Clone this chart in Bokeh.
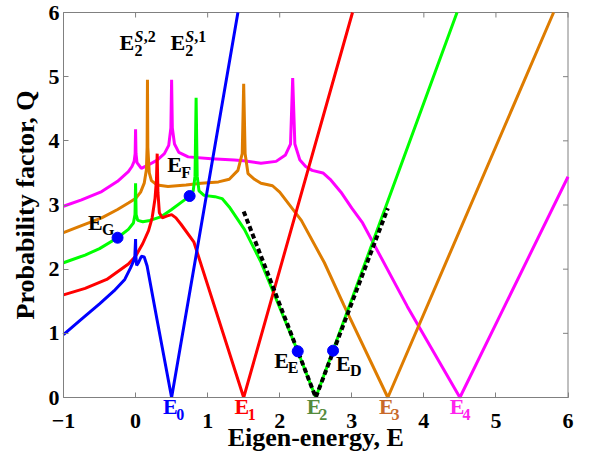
import math
from bokeh.plotting import figure
from bokeh.models import Range1d, FixedTicker, Label
from bokeh.embed import file_html
from bokeh.resources import INLINE

# ---------------- data ----------------
x_ticks = [-1, 0, 1, 2, 3, 4, 5, 6]
y_ticks = [0, 1, 2, 3, 4, 5, 6]
x_lim = [-1, 6]
y_lim = [0, 6]

blue_x = [-1.0, -0.75, -0.5, -0.3, -0.15, -0.07, -0.03, -0.01, 0.0, 0.004, 0.015, 0.04, 0.08, 0.12, 0.16, 0.3, 0.5, 1.42]
blue_y = [0.98, 1.22, 1.46, 1.66, 1.84, 2.02, 2.12, 2.2, 2.47, 2.2, 2.06, 2.1, 2.2, 2.19, 2.05, 1.2, 0.0, 6.0]

red_x = [-1.0, -0.7, -0.4, -0.1, 0.0, 0.1, 0.18, 0.23, 0.27, 0.29, 0.3, 0.31, 0.33, 0.37, 0.44, 0.5, 0.56, 0.63, 0.81, 1.5, 3.01]
red_y = [1.6, 1.7, 1.84, 2.08, 2.2, 2.4, 2.6, 2.8, 3.1, 3.4, 3.8, 3.2, 2.88, 2.8, 2.83, 2.85, 2.8, 2.7, 2.42, 0.0, 6.0]

green_x = [-1.0, -0.7, -0.5, -0.25, -0.1, -0.03, -0.008, 0.0, 0.008, 0.03, 0.1, 0.2, 0.36, 0.5, 0.68, 0.75,
           0.8, 0.825, 0.84, 0.855, 0.88, 0.95, 1.1, 1.2, 1.3, 1.51, 1.74, 2.25, 2.5, 4.46]
green_y = [2.1, 2.22, 2.32, 2.49, 2.62, 2.72, 2.85, 3.34, 2.85, 2.76, 2.74, 2.76, 2.82, 2.93, 3.08, 3.14,
           3.22, 3.45, 4.67, 3.45, 3.22, 3.15, 3.13, 3.1, 2.97, 2.62, 2.11, 0.72, 0.0, 6.0]

orange_x = [-1.0, -0.75, -0.47, -0.25, -0.1, 0.0, 0.07, 0.12, 0.15, 0.16, 0.165, 0.17, 0.19, 0.22, 0.3, 0.45,
            0.7, 0.91, 1.15, 1.3, 1.42, 1.48, 1.5, 1.52, 1.56, 1.65, 1.74, 1.9, 2.0, 2.3, 2.62, 2.89, 3.5, 5.8]
orange_y = [2.57, 2.68, 2.8, 2.93, 3.03, 3.1, 3.2, 3.34, 3.55, 3.9, 4.95, 3.9, 3.5, 3.38, 3.31, 3.29,
            3.31, 3.34, 3.36, 3.4, 3.54, 3.8, 4.89, 3.8, 3.49, 3.4, 3.34, 3.3, 3.2, 2.76, 2.1, 1.44, 0.0, 6.0]

magenta_x = [-1.0, -0.75, -0.47, -0.25, -0.1, -0.05, -0.02, -0.006, 0.0, 0.006, 0.02, 0.08, 0.17, 0.3, 0.4,
             0.46, 0.49, 0.5, 0.51, 0.54, 0.6, 0.73, 1.05, 1.37, 1.5, 1.74, 1.95, 2.08, 2.15, 2.18, 2.21,
             2.28, 2.36, 2.45, 2.6, 2.7, 2.85, 3.0, 3.15, 3.77, 4.5, 6.0]
magenta_y = [2.98, 3.08, 3.21, 3.37, 3.52, 3.6, 3.68, 3.8, 4.18, 3.8, 3.66, 3.57, 3.62, 3.7, 3.8,
             3.93, 4.2, 4.95, 4.2, 3.95, 3.82, 3.75, 3.72, 3.7, 3.69, 3.65, 3.68, 3.78, 3.95, 4.98, 3.95,
             3.7, 3.6, 3.54, 3.5, 3.4, 3.2, 2.95, 2.72, 1.42, 0.0, 3.44]

dash_x = [1.5, 2.5, 3.5]
dash_y = [2.9, 0.0, 2.95]

dot_x = [-0.25, 0.75, 2.25, 2.74]
dot_y = [2.49, 3.14, 0.72, 0.73]

# eigen-energy labels under the axis: (subscript, x of E, x of subscript, colour)
level_labels = [
    ("0", 0.38, 0.564, "#0000FF"),
    ("1", 1.371, 1.557, "#FF0000"),
    ("2", 2.374, 2.548, "#548B3C"),
    ("3", 3.379, 3.551, "#C8692A"),
    ("4", 4.359, 4.535, "#FF22EE"),
]

# annotation texts inside the plot: (text, x, y baseline, font px, italic)
annotations = [
    ("E", -0.222, 5.39, 22, False),
    ("2", -0.014, 5.31, 16, False),
    ("S", -0.014, 5.52, 16, True),
    (",2", 0.115, 5.52, 16, False),
    ("E", 0.485, 5.39, 22, False),
    ("2", 0.688, 5.31, 16, False),
    ("S", 0.688, 5.52, 16, True),
    (",1", 0.815, 5.52, 16, False),
    ("E", -0.659, 2.595, 22, False),
    ("G", -0.465, 2.518, 16, False),
    ("E", 0.439, 3.492, 22, False),
    ("F", 0.633, 3.40, 16, False),
    ("E", 1.925, 0.442, 22, False),
    ("E", 2.111, 0.365, 16, False),
    ("E", 2.78, 0.389, 22, False),
    ("D", 2.974, 0.323, 16, False),
]

x_title = "Eigen-energy, E"
y_title = "Probability factor, Q"

FONT = "Liberation Serif"
GRAY = "#808080"

# ---------------- layout (pixels) ----------------
W, H = 586, 458
BOX_L, BOX_R, BOX_T, BOX_B = 63.0, 567.5, 12.0, 397.0   # where the axes box sits on the canvas
sx = (BOX_R - BOX_L) / (x_lim[1] - x_lim[0])
sy = (BOX_B - BOX_T) / (y_lim[1] - y_lim[0])
x_view = (x_lim[0] - BOX_L / sx, x_lim[1] + (W - BOX_R) / sx)
y_view = (y_lim[0] - (H - BOX_B) / sy, y_lim[1] + BOX_T / sy)
LIFT = 0.4   # label anchor sits this many ems below the drawn baseline


def lift(size_px):
    return LIFT * size_px / sy


p = figure(width=W, height=H, x_range=Range1d(*x_view), y_range=Range1d(*y_view),
           output_backend="svg", toolbar_location=None,
           min_border_left=0, min_border_right=0, min_border_top=0, min_border_bottom=0)
p.grid.visible = False
p.outline_line_color = None
p.background_fill_color = "white"
p.border_fill_color = "white"

xa = p.below[0]
ya = p.left[0]
xa.ticker = FixedTicker(ticks=x_ticks)
ya.ticker = FixedTicker(ticks=y_ticks)
xa.fixed_location = y_lim[0]
ya.fixed_location = x_lim[0]
xa.bounds = (x_lim[0], x_lim[1])
ya.bounds = (y_lim[0], y_lim[1])
for ax in (xa, ya):
    ax.axis_line_color = GRAY
    ax.major_tick_line_color = GRAY
    ax.major_tick_in = 5
    ax.major_tick_out = 0
    ax.minor_tick_line_color = None
    ax.major_label_text_font = FONT
    ax.major_label_text_font_style = "bold"
    ax.major_label_text_font_size = "22px"
    ax.major_label_text_color = "black"
xa.major_label_standoff = 16
ya.major_label_standoff = 4

# axis titles
p.add_layout(Label(x=(x_lim[0] + x_lim[1]) / 2, y=y_lim[0] - 50.0 / sy + lift(26), text=x_title,
                   text_font=FONT, text_font_size="26px", text_font_style="bold",
                   text_color="black", text_align="center", text_baseline="alphabetic"))
p.add_layout(Label(x=x_lim[0] - (28.0 + LIFT * 26) / sx, y=(y_lim[0] + y_lim[1]) / 2, text=y_title,
                   angle=math.pi / 2, text_font=FONT, text_font_size="26px", text_font_style="bold",
                   text_color="black", text_align="center", text_baseline="alphabetic"))

# top and right edges of the box, with inward ticks
p.line(x_lim, [y_lim[1], y_lim[1]], line_color=GRAY, line_width=1)
p.line([x_lim[1], x_lim[1]], y_lim, line_color=GRAY, line_width=1)
p.ray(x=x_ticks, y=[y_lim[1]] * len(x_ticks), length=5, length_units="screen",
      angle=-math.pi / 2, line_color=GRAY, line_width=1)
p.ray(x=[x_lim[1]] * len(y_ticks), y=y_ticks, length=5, length_units="screen",
      angle=math.pi, line_color=GRAY, line_width=1)

LW = 3
p.line(magenta_x, magenta_y, line_color="#FF00FF", line_width=LW)
p.line(orange_x, orange_y, line_color="#DE7C00", line_width=LW)
p.line(green_x, green_y, line_color="#00FF00", line_width=LW)
p.line(red_x, red_y, line_color="#FF0000", line_width=LW)
p.line(blue_x, blue_y, line_color="#0000FF", line_width=LW)
p.line(dash_x, dash_y, line_color="black", line_width=4, line_dash="5 3")
p.scatter(dot_x, dot_y, size=11, fill_color="#0000FF", line_color="#0000FF")

for txt, x, y, size, ital in annotations:
    p.add_layout(Label(x=x, y=y + lift(size), text=txt, text_font=FONT, text_font_size=f"{size}px",
                       text_font_style="bold italic" if ital else "bold",
                       text_color="black", text_align="left", text_baseline="alphabetic"))

for sub, xe, xs, col in level_labels:
    p.add_layout(Label(x=xe, y=y_lim[0] - 18.0 / sy + lift(22), text="E", text_font=FONT,
                       text_font_size="22px", text_font_style="bold", text_color=col,
                       text_align="left", text_baseline="alphabetic"))
    p.add_layout(Label(x=xs, y=y_lim[0] - 23.0 / sy + lift(16), text=sub, text_font=FONT,
                       text_font_size="16px", text_font_style="bold", text_color=col,
                       text_align="left", text_baseline="alphabetic"))

open("out.html", "w").write(file_html(p, INLINE))
